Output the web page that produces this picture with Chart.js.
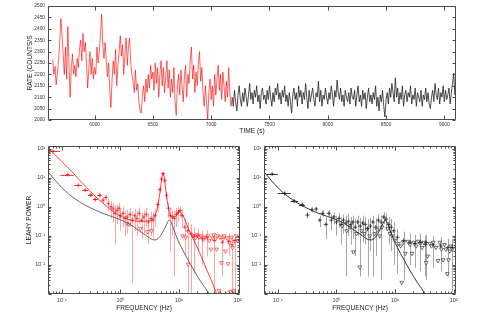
<!DOCTYPE html>
<html><head><meta charset="utf-8">
<script src="https://cdn.jsdelivr.net/npm/chart.js@4/dist/chart.umd.min.js"></script>
<style>
html,body{margin:0;padding:0;background:#fff;}
#wrap{position:relative;width:480px;height:327px;overflow:hidden;}
canvas{position:absolute;left:0;top:0;}
</style></head><body>
<div id="wrap">
<canvas id="c1" width="480" height="327"></canvas>
<canvas id="c2" width="480" height="327"></canvas>
<canvas id="c3" width="480" height="327"></canvas>
</div>
<script>
// ---------------- DATA ----------------
const redStart = 5640, blackStart = 7180, binSec = 10;
const redRate = [
2265,2200,2235,2155,2200,2260,2330,2445,2380,2290,
2200,2320,2180,2410,2250,2100,2230,2290,2200,2240,
2190,2270,2230,2310,2350,2260,2380,2300,2340,2250,
2140,2220,2300,2200,2270,2180,2230,2200,2320,2250,
2300,2370,2465,2330,2270,2340,2260,2190,2250,2130,
2055,2180,2260,2200,2310,2150,2240,2300,2370,2280,
2330,2200,2290,2360,2240,2320,2360,2250,2200,2170,
2120,2220,2130,2160,2080,2040,2030,2110,2150,2080,
2180,2120,2200,2140,2240,2180,2210,2130,2250,2160,
2230,2100,2200,2260,2150,2230,2120,2190,2260,2140,
2220,2100,2180,2120,2230,2080,2020,2150,2200,2110,
2220,2150,2080,2190,2240,2100,2200,2160,2260,2320,
2180,2240,2120,2210,2150,2250,2300,2170,2230,2120,
2060,2150,2080,2000,2120,2180,2090,2150,2060,2200,
2110,2180,2240,2130,2200,2090,2210,2150,2080,2170,
2100,2230,2120,2060,2100];
const blackRate = [
2100,2060,2130,2080,2040,2110,2150,2090,2060,2120,
2080,2140,2100,2060,2110,2160,2090,2120,2070,2130,
2100,2150,2080,2110,2050,2120,2140,2090,2110,2070,
2130,2090,2150,2100,2060,2120,2080,2140,2110,2160,
2090,2120,2070,2130,2100,2150,2080,2110,2060,2120,
2080,2030,2110,2140,2090,2120,2060,2150,2100,2130,
2070,2120,2090,2160,2100,2050,2130,2080,2110,2140,
2090,2060,2120,2100,2170,2080,2130,2060,2110,2090,
2140,2100,2070,2120,2090,2150,2110,2060,2130,2100,
2175,2120,2090,2140,2080,2110,2060,2130,2100,2080,
2120,2070,2140,2100,2090,2130,2060,2110,2150,2080,
2110,2060,2130,2090,2120,2050,2100,2140,2080,2110,
2070,2120,2090,2150,2060,2100,2040,2110,2080,2130,
2060,2013,2090,2120,2070,2140,2100,2160,2120,2080,
2185,2100,2140,2070,2120,2090,2150,2060,2110,2130,
2080,2120,2100,2150,2070,2110,2090,2140,2060,2120,
2100,2080,2130,2060,2110,2090,2140,2080,2120,2070,
2050,2100,2130,2080,2160,2110,2090,2140,2070,2120,
2100,2150,2080,2130,2090,2110,2140,2070,2120,2160,
2205,2110,2130];
const timeTicks = [6000,6500,7000,7500,8000,8500,9000];
const rateTicks = [2000,2050,2100,2150,2200,2250,2300,2350,2400,2450,2500];
const freqTicks = [0.1,1,10,100];
const freqLabels = ['10\u207B\u00B9','10\u2070','10\u00B9','10\u00B2'];
const powTicks = [0.01,0.1,1,10,100];
const powLabels = ['10\u207B\u00B2','10\u207B\u00B9','10\u2070','10\u00B9','10\u00B2'];

// red (left) spectrum: detections
const redF  = [0.07,0.125,0.19,0.25,0.31,0.37,0.44,0.5,0.56,0.62,0.69,0.75,0.81,0.87,0.94,1.0,1.1,1.2,1.3,1.45,1.6,1.75,1.9,2.1,2.3,2.5,2.75,3.0,3.3,3.6,3.9,4.3,4.7,5.0,5.35,5.7,6.1,6.6,7.1,7.7,8.3,9.0,9.7,10.4,11.2,12.5,14,16,18,21,25,30,40,55,70,80,90];
const redP  = [82,13,5.5,3.8,2.6,1.8,2.5,1.7,2.1,1.3,1.0,0.85,0.6,0.75,0.9,0.5,0.6,0.4,0.45,0.55,0.35,0.5,0.4,0.6,0.35,0.45,0.55,0.3,0.4,0.35,0.5,1.2,4,9,14,8,2.5,0.9,0.5,0.45,0.4,0.55,0.65,0.75,0.5,0.2,0.15,0.12,0.1,0.1,0.08,0.09,0.07,0.06,0.065,0.05,0.07];
const redLo = [75,12,5,3.4,2.3,1.5,2.1,1.3,1.6,0.7,0.4,0.3,0.05,0.25,0.4,0.15,0.2,0.1,0.12,0.2,0.0023,0.15,0.1,0.25,0.08,0.12,0.2,0.05,0.1,0.08,0.2,0.7,3,7.8,12.5,7,1.8,0.4,0.03,0.1,0.004,0.2,0.3,0.45,0.2,0.02,0.001,0.001,0.005,0.03,0.01,0.02,0.0012,0.004,0.02,0.001,0.001];
const redHi = [90,14.5,6.2,4.2,2.9,2.1,2.9,2.1,2.6,1.9,1.6,1.4,1.1,1.2,1.4,0.9,1.0,0.75,0.8,0.9,0.7,0.85,0.75,0.95,0.65,0.8,0.9,0.6,0.7,0.65,0.85,1.7,5,10.5,15.5,9.2,3.2,1.4,0.9,0.8,0.75,0.9,1.0,1.05,0.8,0.4,0.3,0.25,0.2,0.18,0.15,0.16,0.13,0.11,0.12,0.1,0.12];
const redFLo = [0.058,0.094,0.16,0.22,0.28,0.34,0.41];
const redFHi = [0.094,0.16,0.22,0.28,0.34,0.41,0.47];
// red (left) spectrum: upper limits
const redUlF = [1.3,1.4,2.2,2.9,3.4,11.5,13,14.3,17.5,19,20.5,22,24,26,28,31,33,35,37,39,42,44,46,48,50,53,56,59,62,66,69,72,75,78,82,86,90,95,100];
const redUlP = [0.27,0.25,0.18,0.14,0.15,0.1,0.09,0.0105,0.1,0.085,0.11,0.09,0.1,0.075,0.09,0.1,0.07,0.035,0.09,0.11,0.08,0.035,0.1,0.0013,0.09,0.012,0.075,0.1,0.03,0.085,0.011,0.06,0.0012,0.09,0.04,0.0013,0.065,0.1,0.07];
// red model
const redModF = [0.058,0.07,0.1,0.15,0.2,0.3,0.4,0.6,0.8,1.0,1.5,2.0,3.0,3.8,4.4,4.8,5.1,5.35,5.6,5.9,6.3,6.8,7.5,8.5,9.5,10.2,11,12,15,20,25,30,37,44,55];
const redModP = [110,75,36,16,8.5,3.6,2.0,1.0,0.62,0.48,0.35,0.32,0.33,0.45,1.2,4,10,15,10,4.5,1.6,0.7,0.45,0.45,0.62,0.72,0.6,0.45,0.15,0.045,0.016,0.0065,0.0025,0.001,0.0004];
// black model (drawn in both panels)
const blkModF = [0.058,0.0625,0.08,0.1,0.13,0.2,0.3,0.5,0.7,1.0,1.5,2.0,2.8,3.5,4.0,4.8,5.6,6.3,6.8,7.3,8.2,9.5,11,14,18,24,33,40];
const blkModP = [16,13.5,7.5,4.6,2.8,1.5,0.95,0.6,0.47,0.36,0.24,0.16,0.1,0.075,0.073,0.1,0.17,0.28,0.35,0.3,0.16,0.075,0.04,0.016,0.0065,0.0025,0.001,0.0005];
// black (right) spectrum: detections
const blkF  = [0.08,0.13,0.19,0.26,0.32,0.38,0.45,0.52,0.58,0.66,0.74,0.82,0.9,1.0,1.1,1.2,1.32,1.45,1.6,1.75,1.9,2.1,2.3,2.55,2.8,3.1,3.4,3.8,4.2,4.7,5.2,5.8,6.4,7.0,7.8,8.6,9.5,11,14,18,22,27,33,34,45,60,80,95];
const blkP  = [13.5,2.9,1.6,1.2,0.52,0.8,0.85,0.35,0.6,0.25,0.6,0.35,0.45,0.3,0.4,0.25,0.35,0.28,0.32,0.25,0.3,0.2,0.3,0.22,0.28,0.25,0.18,0.22,0.3,0.2,0.35,0.3,0.45,0.38,0.25,0.2,0.15,0.09,0.07,0.06,0.055,0.06,0.05,0.06,0.05,0.045,0.04,0.04];
const blkLo = [12.5,2.6,1.4,1.0,0.4,0.65,0.7,0.2,0.45,0.08,0.45,0.15,0.25,0.1,0.2,0.05,0.12,0.004,0.1,0.05,0.08,0.02,0.1,0.004,0.06,0.05,0.004,0.03,0.004,0.02,0.15,0.003,0.25,0.15,0.05,0.03,0.01,0.005,0.003,0.01,0.008,0.006,0.004,0.003,0.008,0.006,0.004,0.0012];
const blkHi = [14.5,3.2,1.8,1.4,0.65,0.95,1.0,0.5,0.75,0.45,0.8,0.55,0.65,0.5,0.6,0.45,0.55,0.5,0.55,0.45,0.5,0.4,0.5,0.42,0.5,0.45,0.38,0.42,0.5,0.4,0.55,0.5,0.65,0.6,0.45,0.38,0.3,0.18,0.14,0.12,0.11,0.12,0.1,0.11,0.1,0.09,0.08,0.08];
const blkFLo = [0.0625,0.1,0.166,0.23];
const blkFHi = [0.1,0.166,0.22,0.29];
// black (right) spectrum: upper limits
const blkUlF = [1.25,1.5,1.7,1.95,2.2,2.5,2.7,3.0,3.3,3.7,4.5,5.0,5.5,6.0,7.5,8.2,9.0,10,11.5,12.5,13,14,15,16.5,18,19.5,21,23,25,27,29,31,34,36,39,42,45,50,54,58,62,66,70,74,78,82,86,90,95];
const blkUlP = [0.22,0.15,0.2,0.028,0.12,0.0085,0.15,0.12,0.17,0.1,0.12,0.16,0.1,0.2,0.18,0.12,0.1,0.07,0.055,0.045,0.0025,0.06,0.025,0.065,0.05,0.025,0.06,0.045,0.065,0.055,0.04,0.06,0.012,0.02,0.055,0.045,0.06,0.04,0.014,0.06,0.035,0.015,0.05,0.035,0.005,0.015,0.03,0.045,0.035];

// ---------------- HELPERS ----------------
const FONT = "'Liberation Sans', Arial, Helvetica, sans-serif";
Chart.defaults.font.family = FONT;
const pts = (xs, ys) => xs.map((x, i) => ({x, y: ys[i]}));
const series = (start, vals) => vals.map((v, i) => ({x: start + i * binSec, y: v}));

const framePlugin = {
  id: 'frame',
  beforeDatasetsDraw(chart, args, o) {
    if (!o || !o.err) return;
    const {ctx, chartArea: a} = chart;
    const xs = chart.scales.x, ys = chart.scales.y, e = o.err;
    ctx.save();
    ctx.beginPath(); ctx.rect(a.left, a.top, a.right - a.left, a.bottom - a.top); ctx.clip();
    ctx.lineWidth = 0.9; ctx.strokeStyle = e.vColor;
    ctx.beginPath();
    e.f.forEach((f, i) => {
      const x = Math.round(xs.getPixelForValue(f)) + 0.5;
      ctx.moveTo(x, ys.getPixelForValue(e.hi[i]));
      ctx.lineTo(x, ys.getPixelForValue(e.lo[i]));
    });
    ctx.stroke();
    ctx.strokeStyle = e.hColor; ctx.beginPath();
    e.fLo.forEach((fl, i) => {
      const y = Math.round(ys.getPixelForValue(e.p[i])) + 0.5;
      ctx.moveTo(xs.getPixelForValue(fl), y);
      ctx.lineTo(xs.getPixelForValue(e.fHi[i]), y);
    });
    ctx.stroke();
    ctx.restore();
  },
  afterDraw(chart, args, o) {
    if (!o || !o.on) return;
    const {ctx, chartArea: a} = chart;
    const xs = chart.scales.x, ys = chart.scales.y;
    const L = Math.round(a.left) + 0.5, R = Math.round(a.right) - 0.5;
    const T = Math.round(a.top) + 0.5, B = Math.round(a.bottom) - 0.5;
    ctx.save();
    ctx.strokeStyle = '#4a4a4a'; ctx.lineWidth = 1;
    ctx.beginPath();
    const minors = (lo, hi) => {
      const out = [];
      for (let k = Math.floor(Math.log10(lo)); k <= Math.ceil(Math.log10(hi)); k++)
        for (let m = 2; m <= 9; m++) { const v = m * Math.pow(10, k); if (v > lo && v < hi) out.push(v); }
      return out;
    };
    const xt = (vals, len) => vals.forEach(v => {
      const x = Math.round(xs.getPixelForValue(v)) + 0.5;
      ctx.moveTo(x, B); ctx.lineTo(x, B - len); ctx.moveTo(x, T); ctx.lineTo(x, T + len);
    });
    const yt = (vals, len) => vals.forEach(v => {
      const y = Math.round(ys.getPixelForValue(v)) + 0.5;
      ctx.moveTo(L, y); ctx.lineTo(L + len, y); ctx.moveTo(R, y); ctx.lineTo(R - len, y);
    });
    xt(o.xMajor, 4); yt(o.yMajor, 3);
    if (o.log) {
      xt(minors(xs.min, xs.max), 2);
      yt(minors(ys.min, ys.max), 2);
      yt([0.001], 3);
    }
    ctx.stroke();
    ctx.beginPath();
    ctx.rect(L, T, R - L, B - T);
    ctx.stroke();
    ctx.restore();
  }
};
Chart.register(framePlugin);

const tickFont = {size: 4.8, family: FONT};
const titleFont = {size: 6.6, family: FONT};
const noGrid = {display: false, drawTicks: false, tickLength: 0};
const fixW = w => s => { s.width = w; s.paddingTop = 0; s.paddingBottom = 0; };
const fixH = h => s => { s.height = h; s.paddingLeft = 0; s.paddingRight = 0; };
const setTicks = vals => s => { s.ticks = vals.map(v => ({value: v})); };

const common = {
  responsive: false, animation: false, devicePixelRatio: 1,
  plugins: {legend: {display: false}, tooltip: {enabled: false}}
};

// ---------------- TOP: LIGHT CURVE ----------------
new Chart(document.getElementById('c1'), {
  type: 'scatter',
  data: {datasets: [
    {data: series(redStart, redRate), showLine: true, pointRadius: 0, borderColor: 'rgba(255,0,0,0.78)', borderWidth: 0.8},
    {data: series(blackStart, blackRate), showLine: true, pointRadius: 0, borderColor: '#222', borderWidth: 0.8}
  ]},
  options: Object.assign({}, common, {
    layout: {padding: {left: 0, right: 24, top: 6, bottom: 191}},
    plugins: Object.assign({}, common.plugins, {frame: {on: true, xMajor: timeTicks, yMajor: rateTicks, log: false}}),
    scales: {
      x: {type: 'linear', min: 5600, max: 9100, grid: noGrid, border: {display: false},
          afterBuildTicks: setTicks(timeTicks), afterFit: fixH(16),
          ticks: {font: tickFont, color: '#333', padding: 2, maxRotation: 0, autoSkip: false, callback: v => String(v)},
          title: {display: true, text: 'TIME (s)', font: titleFont, color: '#222', padding: {top: 0, bottom: 0.8}}},
      y: {type: 'linear', min: 2000, max: 2500, grid: noGrid, border: {display: false},
          afterBuildTicks: setTicks(rateTicks), afterFit: fixW(48),
          ticks: {font: tickFont, color: '#333', padding: 3, autoSkip: false, callback: v => String(v)},
          title: {display: true, text: 'RATE (COUNTS/S', font: titleFont, color: '#222', padding: {top: 25.8, bottom: 0}}}
    }
  })
});

// ---------------- SPECTRUM PANELS ----------------
function spectrum(id, cfg) {
  new Chart(document.getElementById(id), {
    type: 'scatter',
    data: {datasets: cfg.datasets},
    options: Object.assign({}, common, {
      layout: {padding: cfg.pad},
      plugins: Object.assign({}, common.plugins, {frame: {on: true, xMajor: freqTicks, yMajor: powTicks, log: true, err: cfg.err}}),
      scales: {
        x: {type: 'logarithmic', min: 0.058, max: 110, grid: noGrid, border: {display: false},
            afterBuildTicks: setTicks(freqTicks), afterFit: fixH(20),
            ticks: {font: {size: 5.4, family: FONT}, color: '#333', padding: 3, maxRotation: 0, autoSkip: false,
                    callback: v => freqLabels[freqTicks.indexOf(v)]},
            title: {display: true, text: 'FREQUENCY (Hz)', font: titleFont, color: '#222', padding: {top: 0, bottom: 2.1}}},
        y: {type: 'logarithmic', min: 0.001, max: 125, grid: noGrid, border: {display: false},
            afterBuildTicks: setTicks(powTicks), afterFit: fixW(cfg.yw),
            ticks: {font: {size: 5.4, family: FONT}, color: '#333', padding: 3, autoSkip: false,
                    callback: v => powLabels[powTicks.indexOf(v)]},
            title: {display: cfg.ytitle, text: 'LEAHY POWER', font: titleFont, color: '#222', padding: {top: 25.1, bottom: 0}}}
      }
    })
  });
}

spectrum('c2', {
  pad: {left: 0, right: 240, top: 146, bottom: 13}, yw: 48, ytitle: true,
  err: {f: redF, p: redP, lo: redLo, hi: redHi, fLo: redFLo, fHi: redFHi, vColor: 'rgba(255,70,70,0.55)', hColor: 'rgba(255,0,0,0.85)'},
  datasets: [
    {data: pts(blkModF, blkModP), showLine: true, pointRadius: 0, borderColor: '#555', borderWidth: 0.9, cubicInterpolationMode: 'monotone'},
    {data: pts(redModF, redModP), showLine: true, pointRadius: 0, borderColor: 'rgba(255,0,0,0.85)', borderWidth: 0.9, cubicInterpolationMode: 'monotone'},
    {data: pts(redF, redP), pointStyle: 'cross', pointRadius: 2, borderColor: 'rgba(255,0,0,0.8)', borderWidth: 0.8},
    {data: pts(redUlF, redUlP), pointStyle: 'triangle', rotation: 180, pointRadius: 2.2, backgroundColor: '#fff', borderColor: 'rgba(255,0,0,0.8)', borderWidth: 0.7}
  ]
});

spectrum('c3', {
  pad: {left: 240, right: 24, top: 146, bottom: 13}, yw: 24, ytitle: false,
  err: {f: blkF, p: blkP, lo: blkLo, hi: blkHi, fLo: blkFLo, fHi: blkFHi, vColor: 'rgba(90,90,90,0.6)', hColor: '#222'},
  datasets: [
    {data: pts(blkModF, blkModP), showLine: true, pointRadius: 0, borderColor: '#222', borderWidth: 0.9, cubicInterpolationMode: 'monotone'},
    {data: pts(blkF, blkP), pointStyle: 'cross', pointRadius: 2, borderColor: '#222', borderWidth: 0.8},
    {data: pts(blkUlF, blkUlP), pointStyle: 'triangle', rotation: 180, pointRadius: 2.2, backgroundColor: '#fff', borderColor: '#333', borderWidth: 0.7}
  ]
});
</script>
</body></html>
